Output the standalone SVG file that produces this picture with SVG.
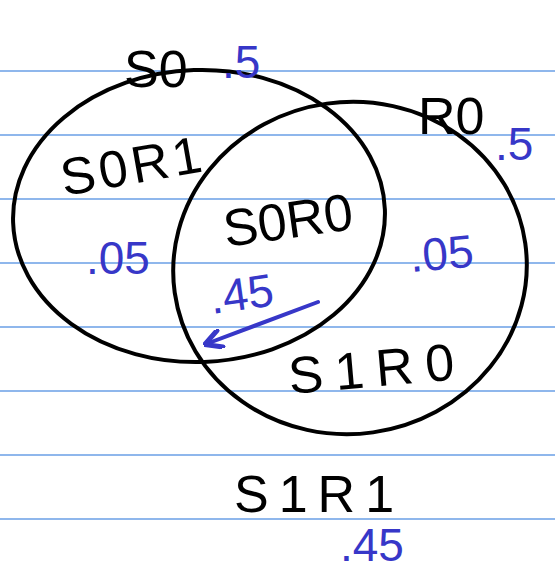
<svg xmlns="http://www.w3.org/2000/svg" width="555" height="574" viewBox="0 0 555 574">
<style>
.rule{stroke:#6a9fe6;stroke-width:1.5}
.set{fill:none;stroke:#000;stroke-width:4}
.lbl{font-family:"Liberation Sans",Arial,sans-serif;fill:#000;font-size:52px}
.p{font-family:"Liberation Sans",Arial,sans-serif;fill:#3737c8;font-size:46px}
.conn{stroke:#3737c8;stroke-width:4;fill:none;stroke-linecap:round}
</style>
<defs>
<marker id="ah" markerWidth="20" markerHeight="20" refX="14" refY="8" orient="auto" markerUnits="userSpaceOnUse" viewBox="0 0 16 16">
<path d="M2,1 L15,8 L2,15" fill="none" stroke="#3737c8" stroke-width="4" stroke-linecap="round" stroke-linejoin="round"/>
</marker>
</defs>
<rect width="555" height="574" fill="#fff"/>
<g id="paper">
<line class="rule" x1="0" y1="71" x2="555" y2="71"/>
<line class="rule" x1="0" y1="135" x2="555" y2="135"/>
<line class="rule" x1="0" y1="199" x2="555" y2="199"/>
<line class="rule" x1="0" y1="263" x2="555" y2="263"/>
<line class="rule" x1="0" y1="327" x2="555" y2="327"/>
<line class="rule" x1="0" y1="391" x2="555" y2="391"/>
<line class="rule" x1="0" y1="455" x2="555" y2="455"/>
<line class="rule" x1="0" y1="519" x2="555" y2="519"/>
</g>
<g id="set-S0">
<ellipse class="set" cx="199" cy="216" rx="186" ry="146" transform="rotate(-2 199 216)"/>
<text class="lbl" x="124" y="87">S0</text>
<text class="p" x="222" y="78">.5</text>
</g>
<g id="set-R0">
<ellipse class="set" cx="350" cy="268" rx="177" ry="166" transform="rotate(-8 350 268)"/>
<text class="lbl" x="418" y="134">R0</text>
<text class="p" x="495" y="160">.5</text>
</g>
<g id="region-S0R1">
<text class="lbl" x="64" y="196" letter-spacing="4" transform="rotate(-10 64 196)">S0R1</text>
<text class="p" x="86" y="274">.05</text>
</g>
<g id="region-S0R0">
<text class="lbl" x="226" y="247" transform="rotate(-8 226 247)">S0R0</text>
<text class="p" x="212" y="314" transform="rotate(-8 212 314)">.45</text>
</g>
<g id="region-S1R0">
<text class="lbl" x="290" y="394" letter-spacing="12" transform="rotate(-5 290 394)">S1R0</text>
<text class="p" x="411" y="272" transform="rotate(-5 411 272)">.05</text>
</g>
<g id="region-S1R1">
<text class="lbl" x="234" y="512" letter-spacing="10">S1R1</text>
<text class="p" x="340" y="561">.45</text>
</g>
<g id="connectors">
<line class="conn" x1="318" y1="302" x2="206" y2="344" marker-end="url(#ah)"/>
</g>
</svg>
